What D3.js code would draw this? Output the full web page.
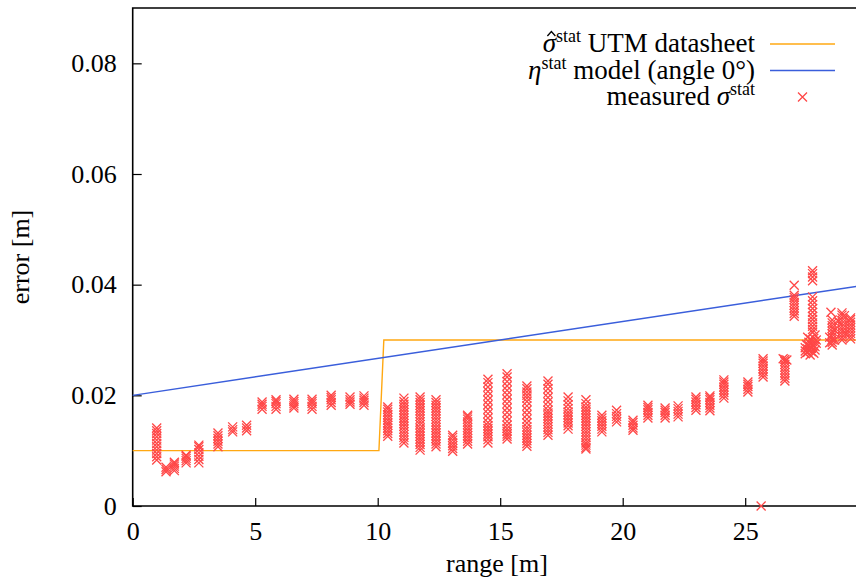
<!DOCTYPE html>
<html><head><meta charset="utf-8">
<script src="https://cdn.jsdelivr.net/npm/d3@7"></script>
<style>body{margin:0;background:#fff}svg{display:block}</style>
</head><body>
<svg id="c" width="856" height="583"></svg>
<script>
// ---------- data ----------
const xTicks = [0, 5, 10, 15, 20, 25];
const yTicks = [0, 0.02, 0.04, 0.06, 0.08];
const yTickLabels = ["0", "0.02", "0.04", "0.06", "0.08"];

const datasheetRange = [0, 10.05, 10.25, 30];
const datasheetError = [0.01, 0.01, 0.03, 0.03];

const modelRange = [0, 30];
const modelError = [0.02, 0.04];

// measured columns: one range, many measured errors
const columnRanges = [0.98, 1.36, 1.7, 2.18, 2.7, 3.48, 4.08, 4.65, 5.28, 5.85, 6.58, 7.32, 8.1, 8.87, 9.44,
  10.41, 11.07, 11.73, 12.38, 13.06, 13.67, 14.5, 15.28, 16.09, 16.95, 17.77, 18.5, 19.15, 19.75,
  20.42, 21.03, 21.73, 22.26, 22.99, 23.56, 24.13, 25.11, 25.73, 26.62, 27.0, 27.75, 28.55, 28.95, 29.3];
const columnErrors = [
  [0.0083,0.0089,0.0095,0.0101,0.0107,0.0113,0.0119,0.0125,0.0131,0.0136,0.0141],
  [0.0062,0.0066,0.0070],
  [0.0064,0.0068,0.0072,0.0076,0.0079],
  [0.0078,0.0082,0.0086,0.0090,0.0092],
  [0.0078,0.0084,0.0090,0.0096,0.0102,0.0107,0.0110],
  [0.0107,0.0112,0.0117,0.0122,0.0127,0.0132],
  [0.0134,0.0138,0.0143],
  [0.0136,0.0141,0.0146],
  [0.0175,0.0180,0.0184,0.0188],
  [0.0175,0.0180,0.0185,0.0189,0.0192],
  [0.0177,0.0181,0.0185,0.0189,0.0193],
  [0.0175,0.0180,0.0185,0.0189,0.0193],
  [0.0182,0.0187,0.0192,0.0196,0.0200],
  [0.0184,0.0188,0.0192,0.0197],
  [0.0182,0.0187,0.0191,0.0195,0.0199],
  [0.0126,0.0131,0.0136,0.0141,0.0146,0.0150,0.0155,0.0160,0.0165,0.0170,0.0175,0.0179],
  [0.0114,0.0119,0.0124,0.0129,0.0134,0.0139,0.0144,0.0149,0.0154,0.0159,0.0164,0.0169,0.0174,0.0179,0.0184,0.0189,0.0195],
  [0.0101,0.0106,0.0111,0.0116,0.0121,0.0126,0.0131,0.0136,0.0141,0.0147,0.0152,0.0157,0.0162,0.0167,0.0172,0.0177,0.0182,0.0187,0.0192,0.0197],
  [0.0107,0.0112,0.0117,0.0122,0.0127,0.0132,0.0137,0.0142,0.0147,0.0152,0.0157,0.0162,0.0167,0.0172,0.0177,0.0182,0.0187,0.0192],
  [0.0099,0.0104,0.0109,0.0114,0.0119,0.0124,0.0128],
  [0.0112,0.0117,0.0122,0.0127,0.0132,0.0137,0.0142,0.0147,0.0152,0.0157,0.0161,0.0164],
  [0.0229,0.0223,0.0215,0.0207,0.0199,0.0191,0.0183,0.0175,0.0167,0.0159,0.0151,0.0145,0.0140,0.0135,0.0130,0.0125,0.0120,0.0114],
  [0.0239,0.0233,0.0225,0.0217,0.0209,0.0201,0.0193,0.0185,0.0177,0.0169,0.0161,0.0153,0.0146,0.0140,0.0135,0.0130,0.0126,0.0121],
  [0.0217,0.0212,0.0206,0.0200,0.0195,0.0189,0.0181,0.0173,0.0165,0.0157,0.0150,0.0143,0.0138,0.0133,0.0128,0.0123,0.0118,0.0113,0.0108],
  [0.0226,0.0220,0.0212,0.0204,0.0196,0.0188,0.0180,0.0173,0.0168,0.0163,0.0158,0.0153,0.0148,0.0143,0.0138,0.0133,0.0128],
  [0.0197,0.0190,0.0183,0.0176,0.0170,0.0165,0.0160,0.0155,0.0150,0.0145,0.0139],
  [0.0192,0.0185,0.0179,0.0174,0.0169,0.0164,0.0159,0.0154,0.0149,0.0144,0.0139,0.0134,0.0129,0.0124,0.0119,0.0114,0.0110,0.0106,0.0103],
  [0.0134,0.0139,0.0144,0.0149,0.0154,0.0159,0.0164],
  [0.0152,0.0157,0.0162,0.0167,0.0173],
  [0.0137,0.0141,0.0146,0.0151,0.0155],
  [0.0159,0.0164,0.0169,0.0174,0.0178,0.0182],
  [0.0159,0.0164,0.0169,0.0173,0.0177],
  [0.0161,0.0166,0.0171,0.0176,0.0181],
  [0.0173,0.0178,0.0183,0.0188,0.0193,0.0197],
  [0.0172,0.0177,0.0182,0.0187,0.0192,0.0196,0.0199],
  [0.0195,0.0200,0.0205,0.0210,0.0215,0.0220,0.0224,0.0228],
  [0.0206,0.0211,0.0216,0.0220,0.0224],
  [0.0233,0.0238,0.0243,0.0248,0.0253,0.0258,0.0262,0.0266],
  [0.0226,0.0231,0.0236,0.0241,0.0246,0.0251,0.0256,0.0261,0.0265],
  [0.0343,0.0348,0.0353,0.0358,0.0363,0.0368,0.0373,0.0377,0.0381,0.0399],
  [0.0425,0.0420,0.0414,0.0407,0.0378,0.0371,0.0364,0.0357,0.0350,0.0343,0.0337,0.0331,0.0325,0.0319,0.0314],
  [0.0291,0.0296,0.0301,0.0306,0.0311,0.0316,0.0321,0.0326,0.0331,0.0336],
  [0.0300,0.0305,0.0310,0.0315,0.0320,0.0325,0.0330,0.0335,0.0340,0.0345,0.0349],
  [0.0302,0.0307,0.0312,0.0317,0.0322,0.0327,0.0332,0.0337,0.0340]
];
// scattered measurements (range, error)
const scatterRange = [25.65, 27.45,27.45,27.45,27.5,27.55,27.55,27.6,27.6,27.65,27.65,27.7,27.7,27.75,27.75,27.8,27.8,27.85,27.85,27.9,27.9,27.55,27.85,
  28.45,28.45,28.5,28.65,28.65,28.8,29.05,29.1,26.55,26.7];
const scatterError = [0.0, 0.0275,0.0280,0.0286,0.0292,0.0278,0.0284,0.0290,0.0296,0.0273,0.0302,0.0279,0.0285,0.0291,0.0297,0.0303,0.0276,0.0282,0.0288,0.0294,0.0300,0.0305,0.0309,
  0.0295,0.0305,0.0350,0.0300,0.0318,0.0334,0.0344,0.0312,0.0266,0.0264];

// ---------- layout ----------
const SERIF = "'Liberation Serif', 'Times New Roman', serif";
const svg = d3.select("#c");
const X0 = 132.7, X1 = 867.7, Y0 = 506, Y1 = 8;
const x = d3.scaleLinear().domain([0, 30]).range([X0, X1]);
const y = d3.scaleLinear().domain([0, 0.09]).range([Y0, Y1]);
const FS = 26, LFS = 27, SFS = 18;
const red = "#ff4747", orange = "#ffa812", blue = "#3a5edb";

// frame
svg.append("path").attr("d", `M${X1},${Y1}H${X0}V${Y0}H${X1}`).attr("fill", "none").attr("stroke", "#000").attr("stroke-width", 1.6);

// axes
const xAxis = d3.axisBottom(x).tickValues(xTicks).tickSize(-8).tickPadding(16).tickFormat(d3.format("d"));
const gx = svg.append("g").attr("transform", `translate(0,${Y0})`).call(xAxis);
gx.select(".domain").remove();
gx.attr("font-family", null).attr("font-size", null);
gx.selectAll("line").attr("stroke", "#000").attr("stroke-width", 1.2);
gx.selectAll("text").style("font-family", SERIF).style("font-size", FS + "px").attr("fill", "#000").attr("dy", "0.71em");

const yAxis = d3.axisLeft(y).tickValues(yTicks).tickSize(-9).tickPadding(16).tickFormat((d, i) => yTickLabels[i]);
const gy = svg.append("g").attr("transform", `translate(${X0},0)`).call(yAxis);
gy.select(".domain").remove();
gy.attr("font-family", null).attr("font-size", null);
gy.selectAll("line").attr("stroke", "#000").attr("stroke-width", 1.2);
gy.selectAll("text").style("font-family", SERIF).style("font-size", FS + "px").attr("fill", "#000");

// axis labels
svg.append("text").attr("x", 497).attr("y", 572).attr("text-anchor", "middle")
  .style("font-family", SERIF).style("font-size", FS + "px").text("range [m]");
svg.append("text").attr("transform", "translate(29,257) rotate(-90)").attr("text-anchor", "middle")
  .style("font-family", SERIF).style("font-size", FS + "px").text("error [m]");

// lines
const line = d3.line().x(d => x(d[0])).y(d => y(d[1]));
svg.append("path").attr("d", line(datasheetRange.map((r, i) => [r, datasheetError[i]])))
  .attr("fill", "none").attr("stroke", orange).attr("stroke-width", 1.4);
svg.append("path").attr("d", line(modelRange.map((r, i) => [r, modelError[i]])))
  .attr("fill", "none").attr("stroke", blue).attr("stroke-width", 1.4);

// measured points
const pts = [];
columnRanges.forEach((r, i) => columnErrors[i].forEach(e => pts.push([r, e])));
scatterRange.forEach((r, i) => pts.push([r, scatterError[i]]));
const cross = "M-4.5,-4.5L4.5,4.5M-4.5,4.5L4.5,-4.5";
svg.append("g").selectAll("path").data(pts).join("path")
  .attr("transform", d => `translate(${x(d[0])},${y(d[1])})`)
  .attr("d", cross).attr("fill", "none").attr("stroke", red).attr("stroke-width", 1.3);

// legend
const LX = 755, LS = 770, LE = 835;
const rows = [
  {y: 44, kind: "line", color: orange},
  {y: 70.5, kind: "line", color: blue},
  {y: 97, kind: "cross", color: red}
];
function leg(row, parts, hat) {
  const t = svg.append("text").attr("x", LX).attr("y", row.y + 8).attr("text-anchor", "end")
    .style("font-family", SERIF).style("font-size", LFS + "px");
  parts.forEach(p => {
    const s = t.append("tspan").text(p.t);
    if (p.it) s.style("font-style", "italic");
    if (p.sup) s.style("font-size", SFS + "px").attr("dy", -10);
    if (p.down) s.attr("dy", 10);
  });
  if (hat) {
    const n = t.node();
    const a = n.getStartPositionOfChar(0).x, b = n.getEndPositionOfChar(0).x;
    const cx = (a + b) / 2 + 2, by = row.y + 8 - 16;
    svg.append("path").attr("d", `M${cx - 4},${by}L${cx},${by - 4.5}L${cx + 4},${by}`)
      .attr("fill", "none").attr("stroke", "#000").attr("stroke-width", 1.3);
  }
  if (row.kind === "line") {
    svg.append("line").attr("x1", LS).attr("x2", LE).attr("y1", row.y).attr("y2", row.y).attr("stroke", row.color).attr("stroke-width", 1.4);
  } else {
    svg.append("path").attr("transform", `translate(${(LS + LE) / 2},${row.y})`).attr("d", cross).attr("fill", "none").attr("stroke", row.color).attr("stroke-width", 1.3);
  }
}
leg(rows[0], [{t: "\u03C3", it: true}, {t: "stat", sup: true}, {t: " UTM datasheet", down: true}], true);
leg(rows[1], [{t: "\u03B7", it: true}, {t: "stat", sup: true}, {t: " model (angle 0\u00B0)", down: true}]);
leg(rows[2], [{t: "measured "}, {t: "\u03C3", it: true}, {t: "stat", sup: true}]);
</script>
</body></html>
